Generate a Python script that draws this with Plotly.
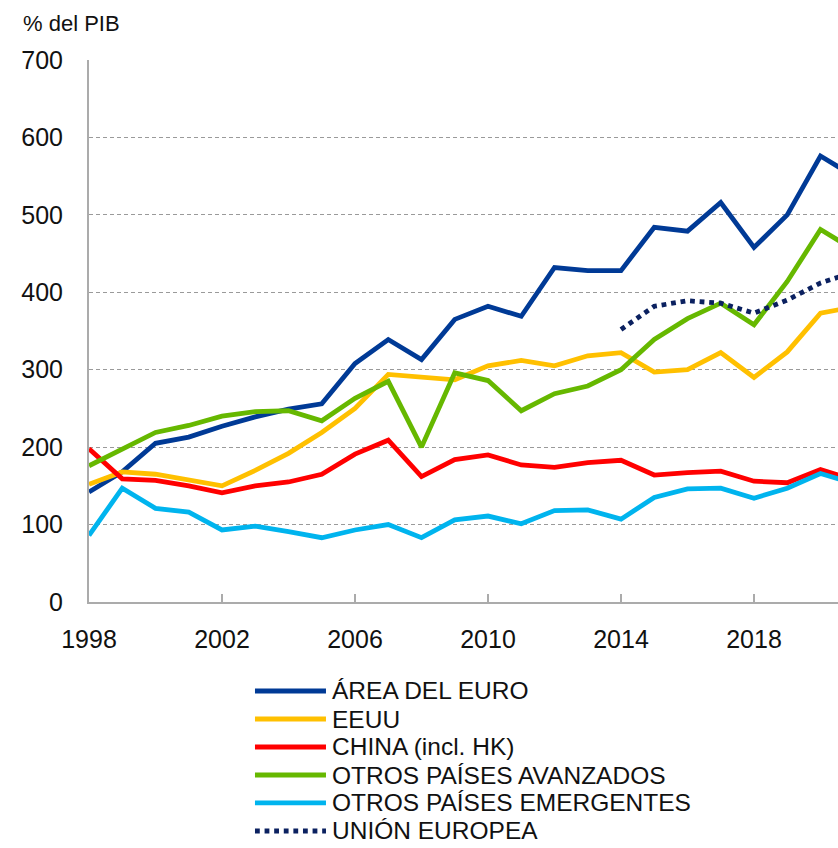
import plotly.graph_objects as go

years = list(range(1998, 2022))
euro = [142, 168, 205, 213, 227, 239, 249, 256, 308, 339, 313, 365, 382, 369, 432, 428, 428, 484, 479, 516, 458, 500, 576, 550]
eeuu = [152, 168, 165, 157, 150, 170, 192, 219, 250, 294, 290, 287, 305, 312, 305, 318, 322, 297, 300, 322, 290, 323, 373, 381]
china = [198, 159, 157, 150, 141, 150, 155, 165, 191, 209, 162, 184, 190, 177, 174, 180, 183, 164, 167, 169, 156, 154, 171, 158]
avanzados = [176, 197, 219, 228, 240, 246, 247, 234, 263, 285, 200, 296, 286, 247, 269, 279, 300, 339, 366, 386, 358, 414, 481, 455]
emergentes = [86, 147, 121, 116, 93, 98, 91, 83, 93, 100, 83, 106, 111, 101, 118, 119, 107, 135, 146, 147, 134, 147, 166, 153]
ue = [None] * 16 + [352, 382, 389, 386, 373, 390, 412, 426]

names = ["ÁREA DEL EURO", "EEUU", "CHINA (incl. HK)", "OTROS PAÍSES AVANZADOS",
         "OTROS PAÍSES EMERGENTES", "UNIÓN EUROPEA"]
series = [euro, eeuu, china, avanzados, emergentes, ue]
colors = ["#003A96", "#FFC000", "#FF0000", "#66B800", "#00B4EE", "#0B2160"]
dashes = ["solid", "solid", "solid", "solid", "solid", "dot"]

xticks = [1998, 2002, 2006, 2010, 2014, 2018]
yticks = [0, 100, 200, 300, 400, 500, 600, 700]

FONT = "Liberation Sans, Arial, Helvetica, sans-serif"

fig = go.Figure()
for name, vals, col, dash in zip(names, series, colors, dashes):
    fig.add_trace(go.Scatter(x=years, y=vals, mode="lines", name=name,
                             line=dict(color=col, width=4.8, dash=dash),
                             showlegend=False, connectgaps=False))

# manual legend below chart
leg_y = [-0.1642, -0.2159, -0.2675, -0.3192, -0.3708, -0.4225]
for name, col, dash, yy in zip(names, colors, dashes, leg_y):
    fig.add_shape(type="line", xref="paper", yref="paper",
                  x0=0.2216, x1=0.3164, y0=yy, y1=yy,
                  line=dict(color=col, width=4.8, dash=dash))
    fig.add_annotation(xref="paper", yref="paper", x=0.3225, y=yy,
                       xanchor="left", yanchor="middle", showarrow=False,
                       text=name, borderpad=0,
                       font=dict(size=24.5, color="#111111", family=FONT))

fig.add_annotation(xref="paper", yref="paper", x=-0.091, y=1.068,
                   xanchor="left", yanchor="middle", showarrow=False,
                   text="% del PIB", font=dict(size=22, color="#111111", family=FONT))

fig.update_layout(
    width=838, height=848,
    margin=dict(l=89, r=0, t=60, b=246),
    paper_bgcolor="white", plot_bgcolor="white",
    font=dict(family=FONT, color="#111111"),
    showlegend=False,
)
fig.update_xaxes(range=[1998, 1998 + 749 / 33.25], tickvals=xticks,
                 ticktext=[str(t) for t in xticks],
                 ticks="inside", ticklen=8, tickwidth=1.5, tickcolor="#ababab",
                 showline=True, linecolor="#ababab", linewidth=2,
                 showgrid=False, zeroline=False,
                 tickfont=dict(size=25, color="#111111", family=FONT),
                 ticklabelstandoff=14)
fig.update_yaxes(range=[0, 700], tickvals=yticks,
                 showline=True, linecolor="#ababab", linewidth=2,
                 showgrid=True, gridcolor="#9a9a9a", gridwidth=1, griddash="4px,3px",
                 zeroline=False, ticks="",
                 tickfont=dict(size=25, color="#111111", family=FONT),
                 ticklabelstandoff=19)

fig.write_html("out.html", config={"displayModeBar": False},
               post_script="document.body.style.margin='0';document.body.style.overflow='hidden';")
